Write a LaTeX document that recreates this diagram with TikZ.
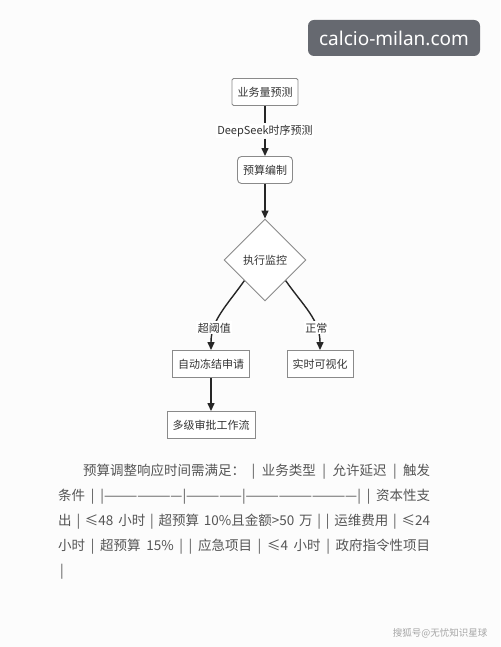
\documentclass[tikz,border=0pt]{standalone}
\usepackage{fontspec}
\setmainfont{Noto Sans CJK SC}
\newfontfamily\badgefont{Noto Sans}
\usetikzlibrary{shapes.geometric,arrows.meta}
\definecolor{boxgray}{HTML}{8A8A8A}
\definecolor{inkdark}{HTML}{262626}
\definecolor{textgray}{HTML}{555555}
\definecolor{badgegray}{HTML}{666970}

\begin{document}
\begin{tikzpicture}[x=1pt, y=1pt,
  stepbox/.style={draw=boxgray, line width=0.9pt, fill=white, minimum height=27pt,
    inner xsep=5.5pt, font=\fontsize{11}{13}\selectfont, text=black!80},
  flow/.style={draw=inkdark, line width=1.4pt, -{Triangle[length=8pt,width=7pt]}},
  lab/.style={fill=white, inner sep=1.5pt, font=\fontsize{11}{13}\selectfont, text=black!80},
  para/.style={anchor=base west, inner sep=0pt, font=\fontsize{13.5}{16}\selectfont, text=textgray}]
  \useasboundingbox (0,0) rectangle (500,647);
  \fill[white!99!black] (0,0) rectangle (500,647);
  % badge and watermark
  \node[fill=badgegray, rounded corners=6pt, minimum width=172pt, minimum height=36pt,
    text=white, font=\badgefont\fontsize{19}{22}\selectfont] (site) at (394,609) {calcio-milan.com};
  \node[text=gray!70, font=\fontsize{9.5}{11}\selectfont] (wm) at (440,14) {搜狐号@无忧知识星球};
  % flowchart
  \node[stepbox, rounded corners=1.5pt] (fcst) at (265,555) {业务量预测};
  \node[lab] (dsk) at (265,516) {DeepSeek时序预测};
  \node[stepbox, rounded corners=4pt] (plan) at (265,477) {预算编制};
  \node[diamond, draw=boxgray, line width=0.9pt, fill=white, minimum width=82pt,
    minimum height=82pt, inner sep=0pt, font=\fontsize{11}{13}\selectfont, text=black!80] (mon) at (265,387) {执行监控};
  \node[stepbox] (frz) at (211,283) {自动冻结申请};
  \node[stepbox] (viz) at (320,283) {实时可视化};
  \node[stepbox] (appr) at (211,222) {多级审批工作流};
  \draw[draw=inkdark, line width=1.4pt] (fcst) -- (dsk);
  \draw[flow] (dsk) -- (plan);
  \draw[flow] (plan) -- (mon);
  \draw[flow] (mon.-135) to[out=-125, in=90] node[lab, pos=0.72] (thr) {超阈值} (frz.north);
  \draw[flow] (mon.-45) to[out=-55, in=90] node[lab, pos=0.72] (ok) {正常} (viz.north);
  \draw[flow] (frz) -- (appr);
  % paragraph
  \node[para] (ln1) at (83,171) {\makebox[347pt][s]{预算调整响应时间需满足： | 业务类型 | 允许延迟 | 触发}};
  \node[para] (ln2) at (58,146) {\makebox[372pt][s]{条件 | |———————|—————|——————————| | 资本性支}};
  \node[para] (ln3) at (58,121) {\makebox[372pt][s]{出 | ≤48 小时 | 超预算 10\%且金额>50 万 | | 运维费用 | ≤24}};
  \node[para] (ln4) at (58,96) {\makebox[372pt][s]{小时 | 超预算 15\% | | 应急项目 | ≤4 小时 | 政府指令性项目}};
  \node[para] (ln5) at (60,71) {|};
\end{tikzpicture}
\end{document}
